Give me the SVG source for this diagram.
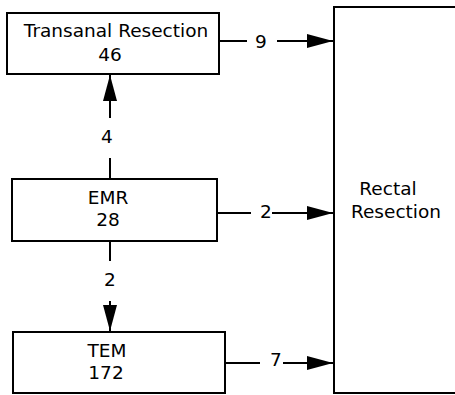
<svg xmlns="http://www.w3.org/2000/svg" width="455" height="395" viewBox="0 0 455 395">
<style>
.box{fill:#fff;stroke:#000;stroke-width:2}
.t{font-family:"DejaVu Sans","Open Sans",sans-serif;font-size:18.5px;fill:#000;text-anchor:middle}
.c line{stroke:#000;stroke-width:2}
</style>
<defs>
<marker id="ah" markerWidth="26" markerHeight="14" refX="26" refY="7" orient="auto" markerUnits="userSpaceOnUse">
<path d="M0,0 L26,7 L0,14 Z" fill="#000"/>
</marker>
</defs>
<rect width="455" height="395" fill="#fff"/>
<g id="rectal">
<rect class="box" x="334" y="7" width="130" height="386"/>
<text class="t" x="388" y="195">Rectal</text>
<text class="t" x="396" y="218">Resection</text>
</g>
<g id="transanal">
<rect class="box" x="7" y="13" width="212" height="61"/>
<text class="t" x="116" y="37">Transanal Resection</text>
<text class="t" x="110" y="61">46</text>
</g>
<g id="emr">
<rect class="box" x="12" y="179" width="205" height="62"/>
<text class="t" x="108" y="204">EMR</text>
<text class="t" x="108" y="226">28</text>
</g>
<g id="tem">
<rect class="box" x="13" y="332" width="212" height="61"/>
<text class="t" x="107" y="357">TEM</text>
<text class="t" x="106" y="379">172</text>
</g>
<g id="connectors" class="c">
<line x1="220" y1="41" x2="247" y2="41"/>
<line x1="277" y1="41" x2="333" y2="41" marker-end="url(#ah)"/>
<text class="t" x="261" y="48">9</text>
<line x1="110" y1="178" x2="110" y2="158"/>
<line x1="110" y1="118" x2="110" y2="75" marker-end="url(#ah)"/>
<text class="t" x="107" y="143">4</text>
<line x1="218" y1="213" x2="251" y2="213"/>
<line x1="272" y1="213" x2="333" y2="213" marker-end="url(#ah)"/>
<text class="t" x="266" y="218">2</text>
<line x1="110" y1="242" x2="110" y2="261"/>
<line x1="110" y1="301" x2="110" y2="331" marker-end="url(#ah)"/>
<text class="t" x="110" y="286">2</text>
<line x1="226" y1="363" x2="260" y2="363"/>
<line x1="283" y1="363" x2="333" y2="363" marker-end="url(#ah)"/>
<text class="t" x="276" y="366">7</text>
</g>
</svg>
